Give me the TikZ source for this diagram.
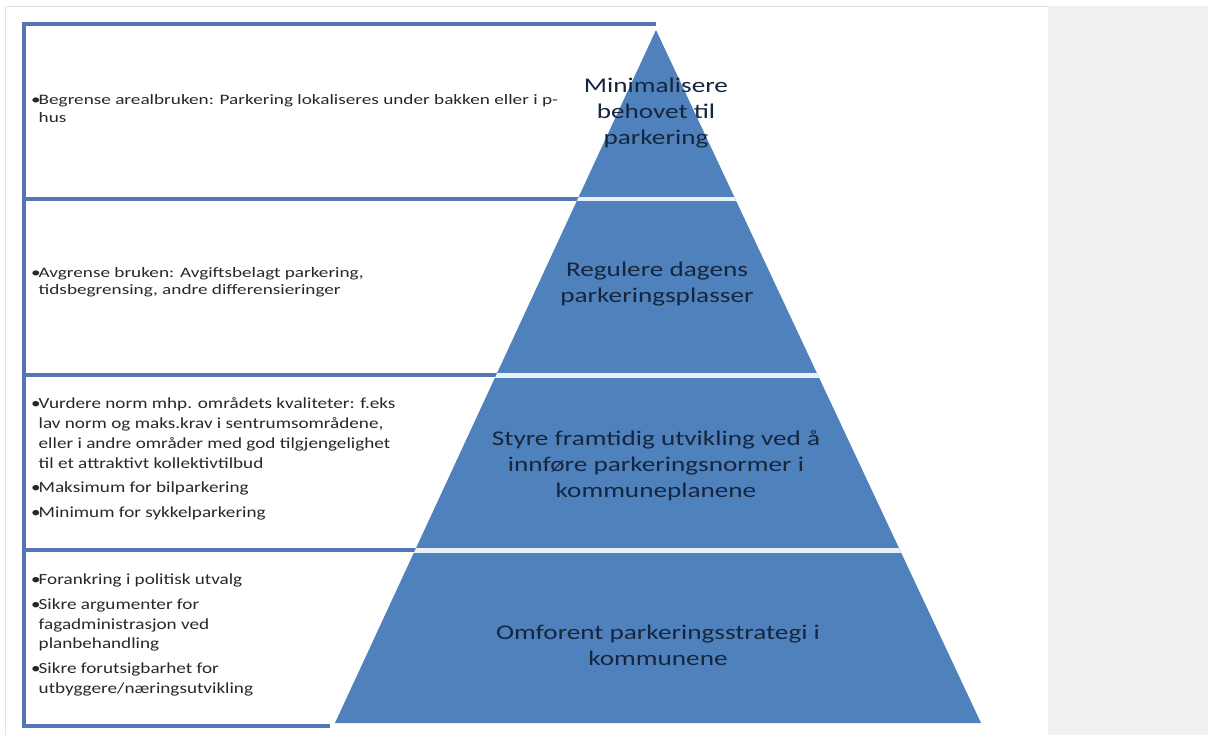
\documentclass[tikz,border=0pt]{standalone}
\usepackage{fontspec}
\setmainfont{Carlito}[FakeStretch=1.3]
\newfontfamily\notewide{Carlito}[FakeStretch=1.33]
\newfontfamily\notenarrow{Carlito}[FakeStretch=1.24]
\usetikzlibrary{calc}

\definecolor{pyrblue}{RGB}{79,129,189}
\definecolor{boxblue}{RGB}{84,118,180}
\definecolor{navytext}{RGB}{22,38,62}
\definecolor{bodytext}{RGB}{40,40,40}
\definecolor{panelgray}{RGB}{240,240,240}
\definecolor{framegray}{RGB}{226,226,226}

\newcommand\blt{\makebox[7.5bp][l]{•}}
\newcommand\cont{\hspace*{7.5bp}}

\tikzset{
  boxline/.style={draw=boxblue, line width=3.2bp},
  slice/.style={fill=pyrblue},
  gapband/.style={fill=white!88!pyrblue},
  tiertext/.style={align=center, text=navytext, inner sep=0pt,
    font=\fontsize{21}{26}\selectfont},
  notesmall/.style={align=left, text=bodytext, inner sep=0pt, anchor=west,
    font=\notewide\fontsize{14.5}{17.5}\selectfont},
  notelarge/.style={align=left, text=bodytext, inner sep=0pt, anchor=west,
    font=\notenarrow\fontsize{15.5}{19.8}\selectfont},
}

\begin{document}
\begin{tikzpicture}[x=1bp, y=-1bp]
  \useasboundingbox (0,0) rectangle (1208,735);
  \fill[white] (0,0) rectangle (1208,735);

  % side panel and page frame
  \fill[panelgray] (1048,6) rectangle (1208,735);
  \draw[framegray, line width=0.8bp] (5,735) -- (5,6) -- (1048,6);

  % outline of the four note boxes
  \draw[boxline] (656,24) -- (24,24) -- (24,726) -- (330,726);
  \draw[boxline] (24,199) -- (600,199);
  \draw[boxline] (24,375) -- (520,375);
  \draw[boxline] (24,550) -- (440,550);

  % pyramid
  \coordinate (apex) at (656,30);
  \coordinate (baseL) at (335,723);
  \coordinate (baseR) at (981,723);
  \fill[slice] (apex) -- (baseL) -- (baseR) -- cycle;
  \begin{scope}
    \clip (apex) -- (baseL) -- (baseR) -- cycle;
    \fill[gapband] (300,197) rectangle (1000,201.5);
    \fill[gapband] (300,373) rectangle (1000,377.5);
    \fill[gapband] (300,548) rectangle (1000,552.5);
  \end{scope}

  % tier labels
  \node[tiertext] (tier1) at (656,113) {Minimalisere\\behovet til\\parkering};
  \node[tiertext] (tier2) at (657,284) {Regulere dagens\\parkeringsplasser};
  \node[tiertext] (tier3) at (656,466) {Styre framtidig utvikling ved å\\innføre parkeringsnormer i\\kommuneplanene};
  \node[tiertext] (tier4) at (658,645) {Omforent parkeringsstrategi i\\kommunene};

  % notes beside each tier
  \node[notesmall] (note1) at (31,108.5) {\blt Begrense arealbruken: Parkering lokaliseres under bakken eller i p-\\
    \cont hus};
  \node[notesmall] (note2) at (31,282) {\blt Avgrense bruken: Avgiftsbelagt parkering,\\
    \cont tidsbegrensing, andre differensieringer};
  \node[notelarge] (note3) at (31,459) {\blt Vurdere norm mhp. områdets kvaliteter: f.eks\\
    \cont lav norm og maks.krav i sentrumsområdene,\\
    \cont eller i andre områder med god tilgjengelighet\\
    \cont til et attraktivt kollektivtilbud\\[5bp]
    \blt Maksimum for bilparkering\\[5bp]
    \blt Minimum for sykkelparkering};
  \node[notelarge] (note4) at (31,635) {\blt Forankring i politisk utvalg\\[5bp]
    \blt Sikre argumenter for\\
    \cont fagadministrasjon ved\\
    \cont planbehandling\\[5bp]
    \blt Sikre forutsigbarhet for\\
    \cont utbyggere/næringsutvikling};
\end{tikzpicture}
\end{document}
